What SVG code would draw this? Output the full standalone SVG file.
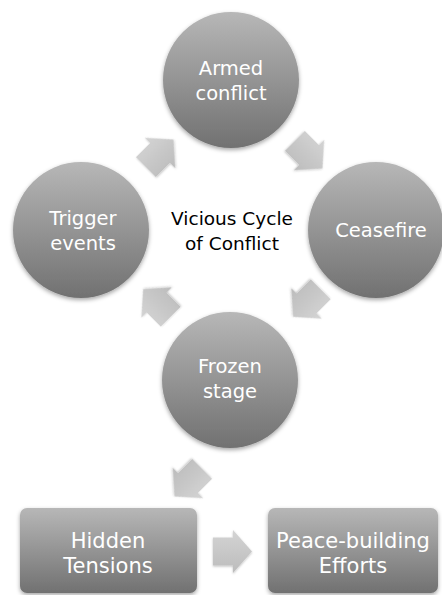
<svg xmlns="http://www.w3.org/2000/svg" width="442" height="595" viewBox="0 0 442 595">
<defs>
<linearGradient id="gNode" x1="0" y1="0" x2="0" y2="1">
<stop offset="0" stop-color="#b7b7b7"/>
<stop offset="1" stop-color="#717171"/>
</linearGradient>
<linearGradient id="gArrow" x1="0" y1="0" x2="0" y2="1">
<stop offset="0" stop-color="#d4d4d4"/>
<stop offset="1" stop-color="#bcbcbc"/>
</linearGradient>
<filter id="sh" x="-20%" y="-20%" width="140%" height="150%">
<feDropShadow dx="0" dy="2" stdDeviation="2" flood-color="#000" flood-opacity="0.35"/>
</filter>
<filter id="shA" x="-30%" y="-30%" width="160%" height="160%">
<feDropShadow dx="0" dy="1" stdDeviation="1.2" flood-color="#000" flood-opacity="0.25"/>
</filter>
<path id="arr" d="M-20,-14 H0 V-21.5 L19,0 L0,21.5 V14 H-20 Z"/>
</defs>
<style>
.node{fill:url(#gNode);filter:url(#sh)}
.arrow{fill:url(#gArrow);filter:url(#shA)}
.lbl{font-family:"DejaVu Sans","Open Sans",sans-serif;font-size:19.5px;fill:#ffffff;text-anchor:middle}
.big{font-size:21px}
.center{font-family:"DejaVu Sans","Open Sans",sans-serif;font-size:18.5px;fill:#000000;text-anchor:middle}
</style>
<rect width="442" height="595" fill="#ffffff"/>
<g id="connectors">
<use href="#arr" class="arrow" transform="translate(160,153) rotate(-45)"/>
<use href="#arr" class="arrow" transform="translate(309,155) rotate(45)"/>
<use href="#arr" class="arrow" transform="translate(306.6,303.4) rotate(135)"/>
<use href="#arr" class="arrow" transform="translate(156.6,302.6) rotate(-135)"/>
<use href="#arr" class="arrow" transform="translate(188,483) rotate(135)"/>
<use href="#arr" class="arrow" transform="translate(233,551.5)"/>
</g>
<g id="armed-conflict">
<circle class="node" cx="231" cy="80" r="68"/>
<text class="lbl" x="231" y="75">Armed</text>
<text class="lbl" x="231" y="100">conflict</text>
</g>
<g id="ceasefire">
<circle class="node" cx="376" cy="230" r="68"/>
<text class="lbl" x="381" y="237">Ceasefire</text>
</g>
<g id="frozen-stage">
<circle class="node" cx="230" cy="380" r="68"/>
<text class="lbl" x="230" y="373">Frozen</text>
<text class="lbl" x="230" y="398">stage</text>
</g>
<g id="trigger-events">
<circle class="node" cx="81" cy="230" r="68"/>
<text class="lbl" x="83" y="225">Trigger</text>
<text class="lbl" x="83" y="250">events</text>
</g>
<g id="center-label">
<text class="center" x="232" y="225">Vicious Cycle</text>
<text class="center" x="232" y="250">of Conflict</text>
</g>
<g id="hidden-tensions">
<rect class="node" x="20" y="508" width="177" height="85" rx="7"/>
<text class="lbl big" x="108" y="548">Hidden</text>
<text class="lbl big" x="108" y="573">Tensions</text>
</g>
<g id="peace-building">
<rect class="node" x="268" y="508" width="170" height="85" rx="7"/>
<text class="lbl big" x="353" y="548">Peace-building</text>
<text class="lbl big" x="353" y="573">Efforts</text>
</g>
</svg>
